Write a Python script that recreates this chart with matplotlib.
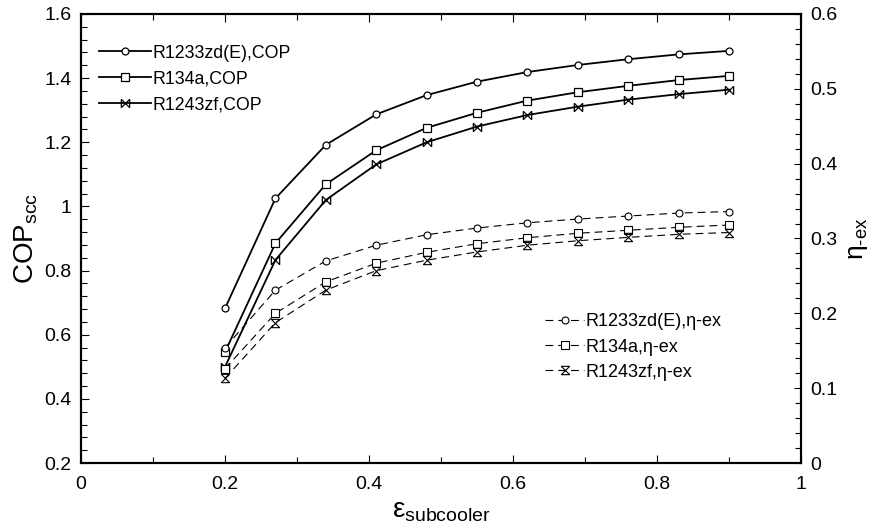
import numpy as np
import matplotlib
matplotlib.use("Agg")
import matplotlib.pyplot as plt
from matplotlib.path import Path
from matplotlib.ticker import MultipleLocator

plt.rcParams['font.family'] = ['Liberation Sans', 'DejaVu Sans']
plt.rcParams['mathtext.fontset'] = 'custom'
plt.rcParams['mathtext.rm'] = 'Liberation Sans'
plt.rcParams['mathtext.it'] = 'Liberation Sans:italic'

# data
eps = [0.2, 0.27, 0.34, 0.41, 0.48, 0.55, 0.62, 0.69, 0.76, 0.83, 0.9]

cop_1233 = [0.682, 1.025, 1.192, 1.287, 1.347, 1.389, 1.419, 1.441, 1.459, 1.474, 1.485]
cop_134a = [0.546, 0.885, 1.069, 1.175, 1.245, 1.292, 1.330, 1.356, 1.376, 1.394, 1.407]
cop_1243 = [0.500, 0.833, 1.020, 1.131, 1.200, 1.249, 1.285, 1.311, 1.333, 1.350, 1.364]

eta_1233 = [0.154, 0.231, 0.270, 0.291, 0.305, 0.314, 0.321, 0.326, 0.330, 0.334, 0.336]
eta_134a = [0.126, 0.200, 0.242, 0.267, 0.2815, 0.293, 0.301, 0.307, 0.311, 0.315, 0.318]
eta_1243 = [0.113, 0.1875, 0.231, 0.257, 0.271, 0.282, 0.291, 0.297, 0.3015, 0.3056, 0.308]

cop_labels = ["R1233zd(E),COP", "R134a,COP", "R1243zf,COP"]
eta_labels = ["R1233zd(E),η-ex", "R134a,η-ex", "R1243zf,η-ex"]

# bowtie / hourglass markers
M, L = Path.MOVETO, Path.LINETO
bowtie = Path([(-1, -1), (1, 1), (-1, 1), (1, -1), (-1, -1), (-1, 1), (1, -1), (1, 1)],
              [M, L, M, L, M, L, M, L])
hourglass = Path([(-1, -1), (1, 1), (-1, 1), (1, -1), (-1, -1), (1, -1), (-1, 1), (1, 1)],
                 [M, L, M, L, M, L, M, L])

fig = plt.figure(figsize=(8.74, 5.28), dpi=100)
ax = fig.add_axes([0.0927, 0.1231, 0.8238, 0.8504])
ax2 = ax.twinx()

solid = dict(color='black', lw=1.3, mfc='white', mec='black', mew=0.9)
h1 = []
h1 += ax.plot(eps, cop_1233, marker='o', ms=5, label=cop_labels[0], **solid)
h1 += ax.plot(eps, cop_134a, marker='s', ms=6, label=cop_labels[1], **solid)
h1 += ax.plot(eps, cop_1243, marker=bowtie, ms=6, label=cop_labels[2], **solid)

dashed = dict(color='black', lw=0.8, ls=(0, (7, 4.5)), mfc='white', mec='black', mew=0.8)
h2 = []
h2 += ax2.plot(eps, eta_1233, marker='o', ms=5, label=eta_labels[0], **dashed)
h2 += ax2.plot(eps, eta_134a, marker='s', ms=6, label=eta_labels[1], **dashed)
h2 += ax2.plot(eps, eta_1243, marker=hourglass, ms=6, label=eta_labels[2], **dashed)

ax.set_xlim(0, 1)
ax.set_ylim(0.2, 1.6)
ax2.set_ylim(0, 0.6)

ax.xaxis.set_major_locator(MultipleLocator(0.2))
ax.xaxis.set_minor_locator(MultipleLocator(0.1))
ax.yaxis.set_major_locator(MultipleLocator(0.2))
ax.yaxis.set_minor_locator(MultipleLocator(0.04))
ax2.yaxis.set_major_locator(MultipleLocator(0.1))
ax2.yaxis.set_minor_locator(MultipleLocator(0.02))

fmt = lambda v, p: ('%g' % round(v, 3))
ax.xaxis.set_major_formatter(fmt)
ax.yaxis.set_major_formatter(fmt)
ax2.yaxis.set_major_formatter(fmt)

ax.tick_params(which='both', direction='in', top=True, right=False, labelsize=14, pad=7, width=0.8)
ax.tick_params(axis='x', pad=9)
ax.tick_params(which='major', length=6)
ax.tick_params(which='minor', length=4)
ax2.tick_params(which='both', direction='in', labelsize=14, pad=7, width=0.8)
ax2.tick_params(which='major', length=5)
ax2.tick_params(which='minor', length=4)

for a in (ax, ax2):
    for s in a.spines.values():
        s.set_linewidth(1.5)

ax.set_xlabel(r'$\mathrm{ε}_{\mathrm{subcooler}}$', fontsize=20, labelpad=4)
ax.set_ylabel(r'$\mathrm{COP}_{\mathrm{scc}}$', fontsize=20, labelpad=3)
ax2.set_ylabel(r'$\mathrm{η}_{\text{-ex}}$', fontsize=19, labelpad=6)

ax.legend(handles=h1, loc='upper left', bbox_to_anchor=(0.025, 0.932),
          frameon=False, fontsize=12.8, handlelength=2.95, handletextpad=0.05,
          labelspacing=0.5, borderpad=0, borderaxespad=0)
ax2.legend(handles=h2, loc='upper left', bbox_to_anchor=(0.644, 0.333),
           frameon=False, fontsize=13, handlelength=2.2, handletextpad=0.05,
           labelspacing=0.45, borderpad=0, borderaxespad=0)

fig.savefig('out.png', dpi=100)
